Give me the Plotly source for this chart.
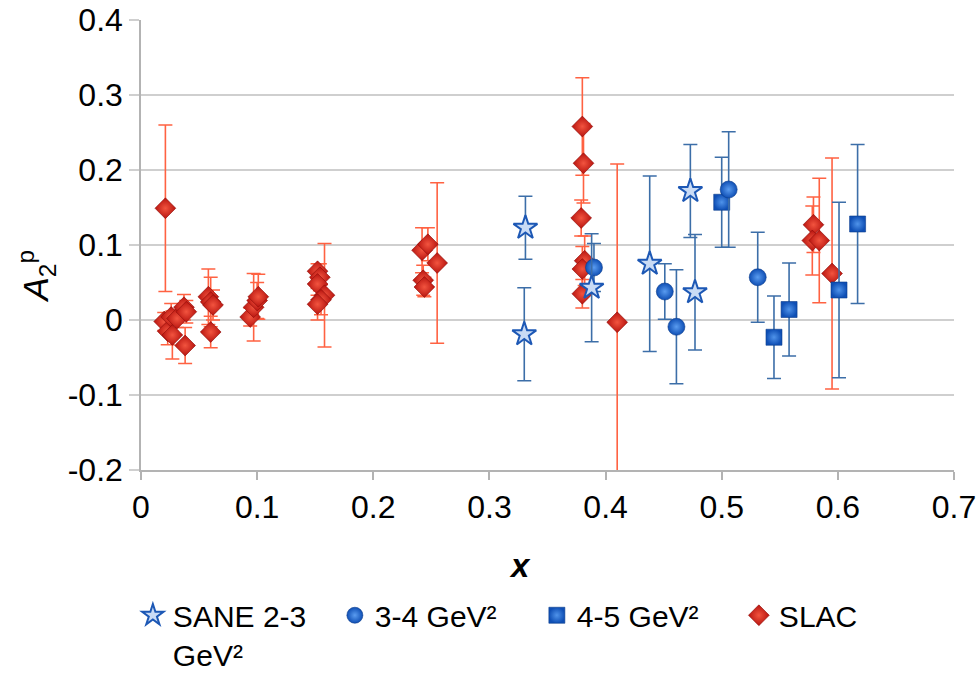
import plotly.graph_objects as go

# ---------------- data ----------------
sane_x = [0.331, 0.330, 0.388, 0.438, 0.473, 0.477]
sane_y = [0.123, -0.019, 0.043, 0.075, 0.172, 0.037]
sane_e = [0.042, 0.062, 0.072, 0.117, 0.062, 0.077]

g34_x = [0.390, 0.451, 0.461, 0.506, 0.531]
g34_y = [0.070, 0.038, -0.009, 0.174, 0.057]
g34_e = [0.032, 0.037, 0.076, 0.077, 0.060]

g45_x = [0.500, 0.545, 0.558, 0.601, 0.617]
g45_y = [0.157, -0.023, 0.014, 0.040, 0.128]
g45_e = [0.060, 0.055, 0.062, 0.117, 0.106]

slac_x = [0.021, 0.020, 0.023, 0.026, 0.027, 0.031,
          0.037, 0.039, 0.038,
          0.058, 0.060, 0.062, 0.060,
          0.094, 0.097, 0.100, 0.101,
          0.152, 0.154, 0.152, 0.158, 0.155, 0.152,
          0.242, 0.247, 0.243, 0.244, 0.255,
          0.380, 0.381, 0.379, 0.382, 0.380, 0.380,
          0.410,
          0.579, 0.578, 0.584, 0.595]
slac_y = [0.149, -0.002, -0.015, 0.004, -0.020, 0.002,
          0.017, 0.011, -0.034,
          0.031, 0.024, 0.020, -0.016,
          0.004, 0.017, 0.026, 0.031,
          0.065, 0.057, 0.048, 0.033, 0.027, 0.021,
          0.093, 0.101, 0.053, 0.044, 0.076,
          0.258, 0.209, 0.136, 0.079, 0.068, 0.035,
          -0.003,
          0.127, 0.106, 0.106, 0.062]
slac_e = [0.111, 0.012, 0.018, 0.018, 0.032, 0.012,
          0.017, 0.015, 0.024,
          0.037, 0.033, 0.020, 0.021,
          0.012, 0.045, 0.024, 0.030,
          0.010, 0.018, 0.015, 0.069, 0.020, 0.021,
          0.030, 0.022, 0.020, 0.013, 0.107,
          0.065, 0.053, 0.024, 0.033, 0.030, 0.019,
          0.211,
          0.037, 0.046, 0.083, 0.154]

y_ticks = [-0.2, -0.1, 0, 0.1, 0.2, 0.3, 0.4]
y_ticklabels = ["-0.2", "-0.1", "0", "0.1", "0.2", "0.3", "0.4"]
x_ticks = [0, 0.1, 0.2, 0.3, 0.4, 0.5, 0.6, 0.7]
x_ticklabels = ["0", "0.1", "0.2", "0.3", "0.4", "0.5", "0.6", "0.7"]

names = ["SANE 2-3<br>GeV²", "3-4 GeV²", "4-5 GeV²", "SLAC"]
x_title = "<b><i>x</i></b>"
y_title = "<i>A</i><sub>2</sub><sup>p</sup>"

# ---------------- figure ----------------
RED_BAR = "#ff6242"
BLUE_BAR = "#3c6ea8"

fig = go.Figure()

fig.add_trace(go.Scatter(
    x=slac_x, y=slac_y, mode="markers", name=names[3],
    error_y=dict(type="data", array=slac_e, visible=True, color=RED_BAR,
                 thickness=1.6, width=7),
    marker=dict(symbol="diamond", size=16, color="#b8140f",
                gradient=dict(type="radial", color="#f2543f"),
                line=dict(color="#8e0c08", width=0.6)),
))
fig.add_trace(go.Scatter(
    x=g45_x, y=g45_y, mode="markers", name=names[2],
    error_y=dict(type="data", array=g45_e, visible=True, color=BLUE_BAR,
                 thickness=1.6, width=7),
    marker=dict(symbol="square", size=16, color="#0f4fb5",
                gradient=dict(type="radial", color="#4f93ea"),
                line=dict(color="#0b3c8c", width=0.6)),
))
fig.add_trace(go.Scatter(
    x=g34_x, y=g34_y, mode="markers", name=names[1],
    error_y=dict(type="data", array=g34_e, visible=True, color=BLUE_BAR,
                 thickness=1.6, width=7),
    marker=dict(symbol="circle", size=17, color="#0f4fb5",
                gradient=dict(type="radial", color="#5a9cf0"),
                line=dict(color="#0b3c8c", width=0.6)),
))
fig.add_trace(go.Scatter(
    x=sane_x, y=sane_y, mode="markers", name=names[0],
    error_y=dict(type="data", array=sane_e, visible=True, color=BLUE_BAR,
                 thickness=1.6, width=7),
    marker=dict(symbol="star", size=18, color="#c9dbf5",
                line=dict(color="#1d58b5", width=2)),
))

FONT = "Liberation Sans, Arial, sans-serif"

fig.update_layout(
    width=979, height=682,
    margin=dict(l=141, r=25, t=20, b=212, autoexpand=False),
    paper_bgcolor="white", plot_bgcolor="white",
    font=dict(family=FONT, size=32, color="black"),
    showlegend=True,
    legend=dict(orientation="h", traceorder="reversed", valign="top",
                x=-0.01, xanchor="left", y=-0.265, yanchor="top",
                font=dict(size=30), entrywidth=157, entrywidthmode="pixels",
                bgcolor="rgba(0,0,0,0)"),
    xaxis=dict(range=[0, 0.7], tickvals=x_ticks, ticktext=x_ticklabels,
               automargin=False,
               showgrid=False, zeroline=False,
               showline=True, linecolor="#b3b3b3", linewidth=1.5,
               ticks="outside", ticklen=8, tickcolor="#b3b3b3", tickwidth=1.5),
    yaxis=dict(range=[-0.2, 0.4], tickvals=y_ticks, ticktext=y_ticklabels,
               automargin=False,
               showgrid=True, gridcolor="#cfcfcf", gridwidth=1.5,
               zeroline=False,
               showline=True, linecolor="#b3b3b3", linewidth=1.5,
               ticks="outside", ticklen=10, tickcolor="#cfcfcf", tickwidth=1.5),
    annotations=[
        dict(text=x_title, xref="paper", yref="paper", x=0.466, y=-0.212,
             xanchor="center", yanchor="middle", showarrow=False,
             font=dict(size=33)),
        dict(text=y_title, xref="paper", yref="paper", x=-0.129, y=0.43,
             xanchor="center", yanchor="middle", showarrow=False,
             textangle=-90, font=dict(size=35)),
    ],
)

fig.write_html("out.html")
